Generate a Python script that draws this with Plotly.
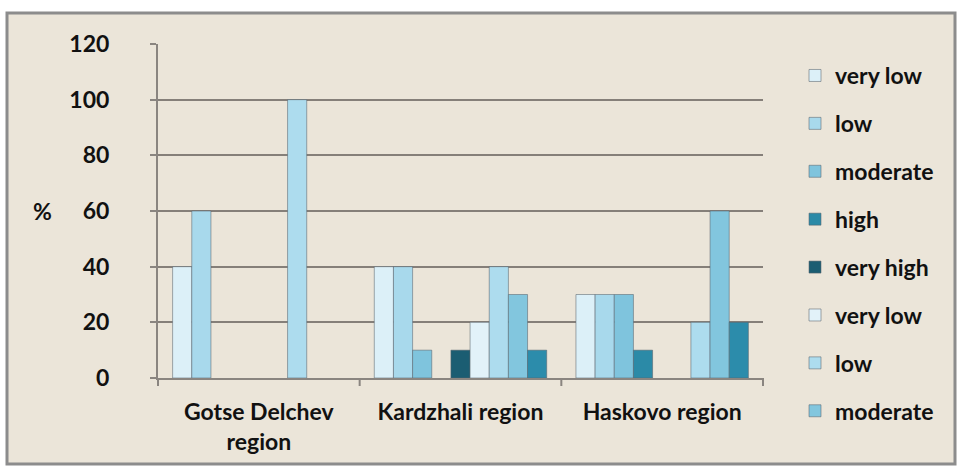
import plotly.graph_objects as go

categories = ["Gotse Delchev<br>region", "Kardzhali region", "Haskovo region"]
series_names = ["very low", "low", "moderate", "high", "very high",
                "very low", "low", "moderate", "high"]
# None = no bar drawn in the reference
values = [
    [40, 40, 30],        # very low
    [60, 40, 30],        # low
    [None, 10, 30],      # moderate
    [None, None, 10],    # high
    [None, 10, None],    # very high
    [None, 20, None],    # very low
    [100, 40, 20],       # low
    [None, 30, 60],      # moderate
    [None, 10, 20],      # high
]
colors = ["#dcf0f8", "#a8d9ec", "#7fc4dd", "#2b8aa7", "#1b5d72",
          "#e2f2f9", "#addcee", "#82c6de", "#2c8cab"]
y_ticks = [0, 20, 40, 60, 80, 100, 120]

fig = go.Figure()
for i, (name, vals, col) in enumerate(zip(series_names, values, colors)):
    fig.add_trace(go.Bar(
        x=categories, y=vals, name=name,
        marker=dict(color=col, line=dict(color="rgba(90,100,110,0.55)", width=1)),
        legendgroup=f"g{i}",
        showlegend=(i < 8),
    ))

font_family = "Lato, 'Liberation Sans', sans-serif"

fig.update_layout(
    width=960, height=472,
    barmode="group", bargap=0.145, bargroupgap=0.0,
    paper_bgcolor="#ffffff",
    plot_bgcolor="#dad1c2",
    margin=dict(l=158, r=197, t=44, b=94),
    font=dict(family=font_family, size=22, color="#111111"),
    showlegend=True,
    legend=dict(
        x=(795 - 158) / 605, xanchor="left", y=0.97, yanchor="top",
        font=dict(size=23, family=font_family, color="#111111", weight="bold"),
        bgcolor="rgba(0,0,0,0)",
        tracegroupgap=15, traceorder="grouped",
        itemwidth=30, maxheight=460,
    ),
    xaxis=dict(
        showgrid=False, showline=True, linecolor="#8a8580", linewidth=2,
        ticks="", tickfont=dict(size=23, family=font_family, weight="bold"),
        ticklabelstandoff=12,
    ),
    yaxis=dict(
        range=[0, 120], tickvals=y_ticks, showgrid=True,
        gridcolor="#857f79", gridwidth=2,
        showline=True, linecolor="#8a8580", linewidth=2,
        ticks="outside", ticklen=6, tickcolor="#8a8580", tickwidth=2,
        tickfont=dict(size=23, family=font_family, weight="bold"),
        ticklabelstandoff=36,
        zeroline=False,
    ),
    shapes=[
        dict(type="rect", xref="paper", yref="paper", layer="below",
             x0=-151/605, x1=(955-158)/605, y0=-(464-378)/334, y1=(378-13)/334,
             fillcolor="#ebe5d9", line=dict(color="#8c8c8c", width=3)),
    ] + [
        dict(type="line", xref="paper", yref="paper",
             x0=k/3, x1=k/3, y0=0, y1=-8/334,
             line=dict(color="#8a8580", width=2))
        for k in range(4)
    ],
    annotations=[
        dict(text="<b>%</b>", xref="paper", yref="y", x=(42-158)/605, y=60,
             showarrow=False, font=dict(size=23, family=font_family),
             xanchor="center", yanchor="middle"),
    ],
)

fig.write_html("out.html", config={"displayModeBar": False},
               post_script="document.body.style.margin='0';")
